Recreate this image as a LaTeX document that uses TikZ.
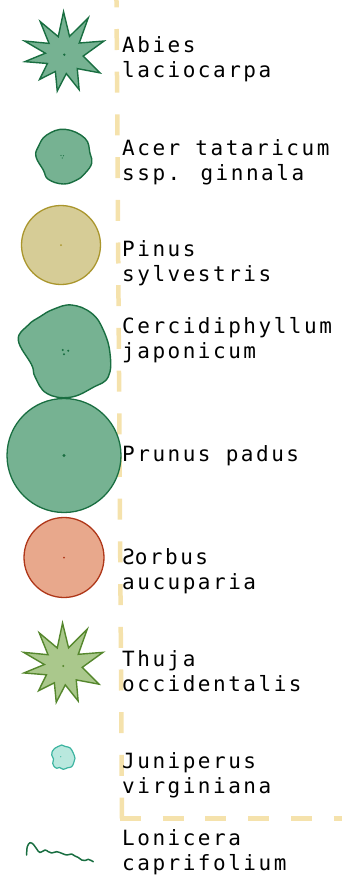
\documentclass[tikz,border=0pt]{standalone}
\usepackage{fontspec}
\usepackage{graphicx}
\newfontfamily\labelfont[LetterSpace=12]{DejaVu Sans Mono}
\definecolor{gfill}{RGB}{118,178,146}
\definecolor{gline}{RGB}{25,110,65}
\definecolor{pfill}{RGB}{214,204,150}
\definecolor{pline}{RGB}{170,150,45}
\definecolor{sfill}{RGB}{232,168,140}
\definecolor{sline}{RGB}{175,55,25}
\definecolor{tfill}{RGB}{170,200,140}
\definecolor{tline}{RGB}{85,135,45}
\definecolor{jfill}{RGB}{185,232,222}
\definecolor{jline}{RGB}{60,180,160}
\definecolor{dashcol}{RGB}{245,226,172}
\newcommand\twolines[2]{\vtop{\hbox{#1}\hbox{#2}}}
\newcommand\starshape{(91:43) -- (74:19) -- (57:44) -- (38:19) -- (19:42) -- (-4:19) -- (-27:40) -- (-47:19) -- (-67:38) -- (-84:19) -- (-101:37) -- (-118:19) -- (-135:35) -- (-152.5:19) -- (-170:40) -- (175.5:19) -- (161:42) -- (143.5:19) -- (126:41) -- (108.5:19) -- cycle}
\tikzset{
  lbl/.style={anchor=base west, inner sep=0pt, font=\labelfont\fontsize{21}{25}\selectfont},
  border/.style={line width=4.5pt, draw=dashcol, dash pattern=on 21pt off 21.7pt},
  tree/.style={circle, inner sep=0pt, line width=1.3pt},
  blob/.style={line width=1.4pt, line join=round},
}
\begin{document}
\begin{tikzpicture}[x=1pt,y=-1pt]
\useasboundingbox (0,0) rectangle (342,879);
% border dashed lines
\coordinate (vtop) at (116.4,-13.7);
\coordinate (corner) at (122,818.6);
\coordinate (hstart) at (120,818.7);
\coordinate (hend) at (360,818.7);
\draw[border] (vtop) -- (corner);
\draw[border] (hstart) -- (hend);

% Abies laciocarpa
\begin{scope}[shift={(64.3,54.7)}, yscale=-1]
\draw[fill=gfill, draw=gline, line width=1.4pt, line join=miter] \starshape;
\fill[gline] (0,0) circle (1.3);
\end{scope}
\node[lbl] (abies) at (122,52.7) {\twolines{Abies}{laciocarpa}};

% Acer tataricum
\draw[blob, fill=gfill, draw=gline] plot[smooth cycle, tension=0.7] coordinates {(46.7,135) (65,129.3) (85,138.3) (90,153.3) (91.7,163.3) (85,173.3) (76.7,180) (63.3,184) (48.3,179.3) (43.3,170) (36,156.7) (38.3,146.7)};
\fill[gline] (61,155.5) circle (0.6) (63.5,155.8) circle (0.6) (62.2,158) circle (0.6);
\node[lbl] (acer) at (122,155) {\twolines{Acer tataricum}{ssp. ginnala}};

% Pinus sylvestris
\node[tree, minimum size=79pt, fill=pfill, draw=pline] (pinus) at (61,245) {};
\fill[pline] (pinus.center) circle (1);
\node[lbl] (pinuslbl) at (122,256.7) {\twolines{Pinus}{sylvestris}};

% Cercidiphyllum japonicum
\draw[blob, fill=gfill, draw=gline] plot[smooth cycle, tension=0.7] coordinates {(53.3,309.3) (71.7,305) (91.7,313.3) (103.3,330) (110,353.3) (108.3,376.7) (93.3,387.3) (70,397.3) (46.7,393.3) (35,376.7) (31.7,365) (18.3,340) (28.3,325) (40,316.7)};
\fill[gline] (62.7,350) circle (1.1) (68.3,350.7) circle (1.1) (64,354.3) circle (1.1);
\node[lbl] (cerc) at (122,333.3) {\twolines{Cercidiphyllum}{japonicum}};

% Prunus padus
\node[tree, minimum size=114pt, fill=gfill, draw=gline] (prunus) at (64,455.5) {};
\fill[gline] (prunus.center) circle (1.6);
\node[lbl] (prunuslbl) at (122,461.7) {Prunus padus};

% Sorbus aucuparia
\node[tree, minimum size=80pt, fill=sfill, draw=sline] (sorbus) at (64,557.5) {};
\fill[sline] (sorbus.center) circle (1);
\node[lbl] (sorbuslbl) at (122,564) {\twolines{\reflectbox{S}orbus}{aucuparia}};

% Thuja occidentalis
\begin{scope}[shift={(63.3,666)}, yscale=-1]
\draw[fill=tfill, draw=tline, line width=1.4pt, line join=miter] \starshape;
\fill[tline] (0,0) circle (1.1);
\end{scope}
\node[lbl] (thuja) at (122,666) {\twolines{Thuja}{occidentalis}};

% Juniperus virginiana
\draw[blob, line width=1.2pt, fill=jfill, draw=jline] plot[smooth cycle, tension=0.6] coordinates {(54.5,748.5) (58,746.5) (61.7,745) (65.5,746.5) (70,747.8) (73,752.5) (75,758.3) (73.8,762.5) (71.7,766.7) (67.5,767.8) (63.3,769.3) (59.5,767.5) (56.7,768.3) (53.8,766) (52.7,763.3) (53.5,759) (51.7,755) (52.2,751.5)};
\fill[jline] (60.7,756.7) circle (0.6);
\node[lbl] (junip) at (122,768.3) {\twolines{Juniperus}{virginiana}};

% Lonicera caprifolium
\draw[gline, line width=1.5pt, line cap=round, line join=round] plot[smooth, tension=0.6] coordinates {(26.7,855) (27.2,847) (30,842.7) (33.5,844.5) (36.7,849) (40,852.5) (45,850) (48.3,851.7) (51.7,853) (56.7,851.7) (61.7,853.3) (66.7,855) (71.7,854) (75,856) (78.3,857.5) (81.7,860) (85,860.5) (88.3,859.3) (93.3,861.7)};
\node[lbl] (lonic) at (122,845) {\twolines{Lonicera}{caprifolium}};
\end{tikzpicture}
\end{document}
